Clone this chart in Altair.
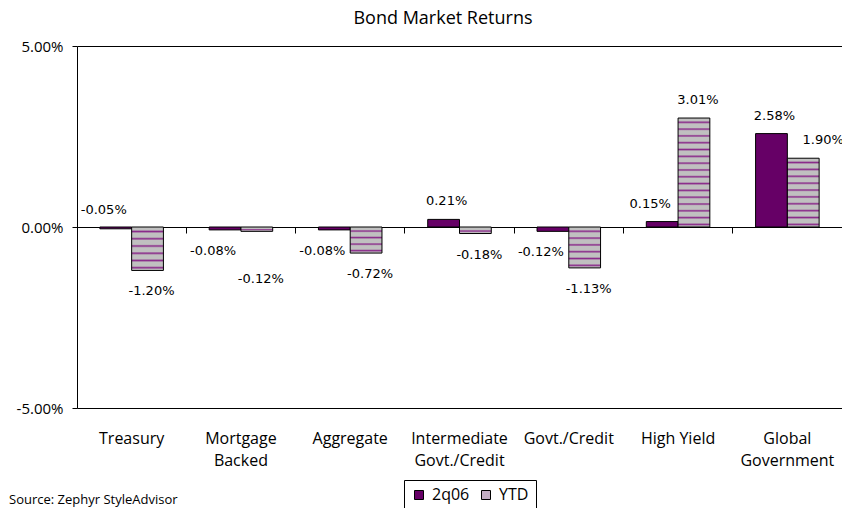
import altair as alt
import pandas as pd

# ---------------- data ----------------
categories = ["Treasury", "Mortgage\nBacked", "Aggregate", "Intermediate\nGovt./Credit",
              "Govt./Credit", "High Yield", "Global\nGovernment"]
series_names = ["2q06", "YTD"]
returns_2q06 = [-0.05, -0.08, -0.08, 0.21, -0.12, 0.15, 2.58]
returns_ytd = [-1.20, -0.12, -0.72, -0.18, -1.13, 3.01, 1.90]
y_ticks = [-5.0, 0.0, 5.0]
title_text = "Bond Market Returns"
source_text = "Source: Zephyr StyleAdvisor"

# ---------------- style ----------------
W, H = 765, 362
PURPLE = "#660066"
GREY = "#c0c0c0"
WAVE = "#8a2a8a"
LABEL_FONT = "Open Sans"
VALUE_FONT = "DejaVu Sans"

rows = []
for c, a, b in zip(categories, returns_2q06, returns_ytd):
    rows.append({"category": c, "series": "2q06", "value": a})
    rows.append({"category": c, "series": "YTD", "value": b})
df = pd.DataFrame(rows)


def pct(v):
    return ("-" if v < 0 else "") + f"{abs(v):.2f}%"


df["label"] = df["value"].map(pct)

# label placement (outside end, like the original), with a few nudges
nudges = {("Treasury", "2q06"): (0, -40),
          ("Mortgage\nBacked", "YTD"): (0, 27),
          ("Global\nGovernment", "YTD"): (16, 0)}
dxs, dys = [], []
for _, r in df.iterrows():
    dy = -18 if r["value"] > 0 else 21
    if r["series"] == "YTD":
        dx = 4
    else:
        dx = -12 if abs(r["value"]) < 0.2 else 3
    ndx, ndy = nudges.get((r["category"], r["series"]), (0, 0))
    dxs.append(dx + ndx)
    dys.append(dy + ndy)
df["dx"] = dxs
df["dy"] = dys

x_scale = alt.Scale(domain=categories, paddingInner=0, paddingOuter=0)
xo_scale = alt.Scale(domain=series_names, paddingInner=0, paddingOuter=0.72)
y_scale = alt.Scale(domain=[-5, 5], nice=False)

bottom_axis = alt.Axis(title=None, orient="bottom", ticks=False, domain=True,
                       domainColor="black", labelAngle=0, labelFont=LABEL_FONT,
                       labelFontSize=16, labelColor="black", labelPadding=22,
                       labelLineHeight=22, labelExpr="split(datum.label, '\\n')",
                       grid=False)
zero_axis = alt.Axis(title=None, orient="bottom", offset=-H / 2, labels=False,
                     ticks=True, tickSize=6, tickColor="black", domain=True,
                     domainColor="black", bandPosition=0, grid=False)
top_axis = alt.Axis(title=None, orient="top", labels=False, ticks=False, domain=True,
                    domainColor="black", grid=False)
y_axis = alt.Axis(values=y_ticks, title=None, grid=False, tickSize=5,
                  tickColor="black", domainColor="black", labelFont=LABEL_FONT,
                  labelFontSize=15, labelColor="black", labelPadding=9,
                  labelExpr="(datum.value < 0 ? '-' : '') + format(abs(datum.value), '.2f') + '%'")


def X(axis):
    return alt.X("category:N", scale=x_scale, axis=axis, sort=categories)


XO = alt.XOffset("series:N", scale=xo_scale)
Y = alt.Y("value:Q", scale=y_scale, axis=y_axis)

base = alt.Chart(df)

bars_q = base.transform_filter("datum.series == '2q06'").mark_bar(
    stroke="black", strokeWidth=1
).encode(
    x=X(bottom_axis), xOffset=XO, y=Y,
    color=alt.Color("series:N",
                    scale=alt.Scale(domain=series_names, range=[PURPLE, "#c4aec4"]),
                    legend=alt.Legend(title=None, orient="none", legendX=327, legendY=434,
                                      direction="horizontal", symbolType="square",
                                      symbolSize=81, symbolStrokeColor="black",
                                      symbolStrokeWidth=1, labelFont=LABEL_FONT,
                                      labelFontSize=16, labelColor="black",
                                      labelOffset=5, columnPadding=8, padding=7,
                                      strokeColor="black", fillColor="white")),
)

layers = [bars_q]

# YTD bars with a striped (wave-like) fill
for cat, v in zip(categories, returns_ytd):
    h = abs(v) / 10 * H
    n = max(1, round(h / 7))
    stops = []
    for k in range(n):
        b0 = k / n
        stops += [
            {"offset": b0, "color": GREY},
            {"offset": b0 + 0.40 / n, "color": GREY},
            {"offset": b0 + 0.62 / n, "color": WAVE},
            {"offset": b0 + 0.86 / n, "color": GREY},
        ]
    stops.append({"offset": 1, "color": GREY})
    grad = {"gradient": "linear", "x1": 0, "x2": 0, "y1": 0, "y2": 1, "stops": stops}
    safe = cat.replace("\n", "\\n")
    layers.append(
        base.transform_filter(f"datum.series == 'YTD' && datum.category == '{safe}'")
        .mark_bar(fill=grad, stroke="black", strokeWidth=1)
        .encode(x=X(None), xOffset=XO, y=Y)
    )

# zero line with tick marks between categories, and the top frame line (as axes)
layers.append(
    base.mark_point(opacity=0).encode(x=X(zero_axis), xOffset=XO, y=Y)
)
layers.append(
    base.mark_point(opacity=0).encode(x=X(top_axis), xOffset=XO, y=Y)
)

# value labels
for (dx, dy), _g in df.groupby(["dx", "dy"]):
    layers.append(
        base.transform_filter(f"datum.dx == {dx} && datum.dy == {dy}")
        .mark_text(font=VALUE_FONT, fontSize=13, color="black", baseline="middle",
                   align="center", dx=int(dx), dy=int(dy))
        .encode(x=X(None), xOffset=XO, y=Y, text="label:N")
    )

# title and source note
note_df = pd.DataFrame({"t": [source_text], "title": [title_text]})
layers.append(
    alt.Chart(note_df).mark_text(align="left", baseline="alphabetic", font=LABEL_FONT,
                                 fontSize=13, color="black")
    .encode(x=alt.value(-68), y=alt.value(458), text="t:N")
)
layers.append(
    alt.Chart(note_df).mark_text(align="center", baseline="alphabetic", font=LABEL_FONT,
                                 fontSize=18, color="black")
    .encode(x=alt.value(366), y=alt.value(-22), text="title:N")
)

chart = alt.layer(*layers).resolve_axis(x="independent").properties(
    width=W, height=H,
    background="white",
    autosize=alt.AutoSizeParams(type="none"),
    padding={"left": 69, "top": 38, "right": 0, "bottom": 100},
).configure_view(stroke="transparent", strokeWidth=0, strokeOpacity=0)

chart.save("out.html", embed_options={"renderer": "svg", "actions": False})
